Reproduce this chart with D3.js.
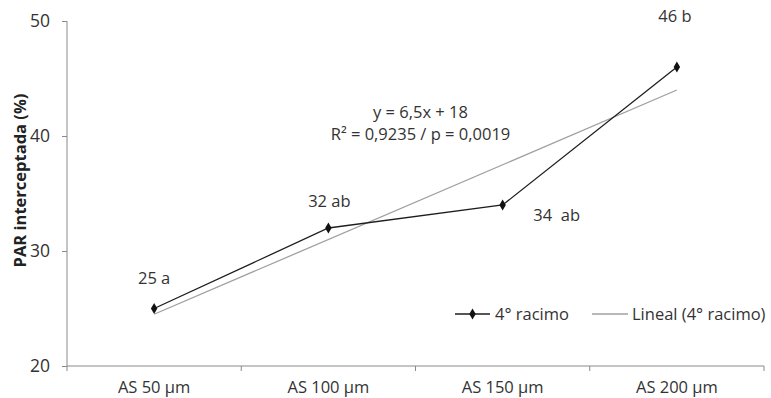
<!DOCTYPE html>
<meta charset="utf-8">
<style>
  body { margin: 0; background: #fff; }
  text { font-family: "Open Sans", sans-serif; fill: #333; }
  .axis path, .axis line { stroke: #8a8a8a; }
  .axis text { font-size: 16.5px; fill: #333; font-family: "Open Sans", sans-serif; }
</style>
<body>
<div id="chart"></div>
<script src="https://d3js.org/d3.v7.min.js"></script>
<script>
// data
var categories = ["AS 50 \u00b5m", "AS 100 \u00b5m", "AS 150 \u00b5m", "AS 200 \u00b5m"];
var values = [25, 32, 34, 46];
var pointLabels = ["25 a", "32 ab", "34  ab", "46 b"];
var yTicks = [20, 30, 40, 50];
var trendSlope = 6.5, trendIntercept = 18;
var equationLines = ["y = 6,5x + 18", "R\u00b2 = 0,9235 / p = 0,0019"];

var margin = { top: 21, right: 7, bottom: 32, left: 67 },
  width = 771 - margin.left - margin.right,
  height = 398 - margin.top - margin.bottom;

var svg = d3.select("#chart").append("svg")
  .attr("width", 771).attr("height", 398);
var g = svg.append("g").attr("transform", "translate(" + margin.left + "," + margin.top + ")");

var x = d3.scaleBand().domain(categories).range([0, width]);
var y = d3.scaleLinear().domain([20, 50]).range([height, 0]);
var cx = function (i) { return x(categories[i]) + x.bandwidth() / 2; };

// axes
var xAxis = g.append("g").attr("class", "axis")
  .attr("transform", "translate(0," + height + ")")
  .call(d3.axisBottom(x).tickSize(0).tickPadding(15));
xAxis.select(".domain").attr("d", "M0,0H" + width);
// category boundary ticks
xAxis.selectAll(".bound").data(d3.range(categories.length + 1)).enter()
  .append("line").attr("class", "bound")
  .attr("x1", function (i) { return i * x.step(); })
  .attr("x2", function (i) { return i * x.step(); })
  .attr("y1", 0).attr("y2", 5);

var yAxis = g.append("g").attr("class", "axis")
  .call(d3.axisLeft(y).tickValues(yTicks).tickSize(5).tickPadding(12));
yAxis.select(".domain").attr("d", "M0," + height + "V0");
yAxis.selectAll("text").style("font-size", "17.5px");

// y title
svg.append("text")
  .attr("transform", "translate(26," + (margin.top + height / 2 - 13) + ") rotate(-90)")
  .attr("text-anchor", "middle")
  .style("font-size", "16.5px").style("font-weight", "bold").style("fill", "#222")
  .text("PAR interceptada (%)");

// trend line
var trend = categories.map(function (c, i) { return [cx(i), y(trendSlope * (i + 1) + trendIntercept)]; });
g.append("path")
  .attr("d", d3.line()([trend[0], trend[trend.length - 1]]))
  .attr("fill", "none").attr("stroke", "#a0a0a0").attr("stroke-width", 1.3);

// series line
g.append("path")
  .datum(values)
  .attr("d", d3.line().x(function (d, i) { return cx(i); }).y(function (d) { return y(d); }))
  .attr("fill", "none").attr("stroke", "#1e1e1e").attr("stroke-width", 1.3);

var diamond = d3.symbol().type(d3.symbolDiamond).size(36);
g.selectAll(".pt").data(values).enter().append("path")
  .attr("class", "pt")
  .attr("d", diamond)
  .attr("transform", function (d, i) { return "translate(" + cx(i) + "," + y(d) + ")"; })
  .attr("fill", "#111");

// point labels
var labelOffsets = [[0, -25], [1, -21], [54, 16], [-2, -45]];
g.selectAll(".plab").data(values).enter().append("text")
  .attr("x", function (d, i) { return cx(i) + labelOffsets[i][0]; })
  .attr("y", function (d, i) { return y(d) + labelOffsets[i][1]; })
  .attr("text-anchor", "middle")
  .style("font-size", "16.5px")
  .style("white-space", "pre")
  .text(function (d, i) { return pointLabels[i]; });

// equation
g.selectAll(".eq").data(equationLines).enter().append("text")
  .attr("x", (cx(1) + cx(2)) / 2 + 5)
  .attr("y", function (d, i) { return 97 + i * 22; })
  .attr("text-anchor", "middle")
  .style("font-size", "16.5px")
  .text(function (d) { return d; });

// legend
var leg = svg.append("g").attr("transform", "translate(455,314)");
leg.append("line").attr("x1", 0).attr("x2", 35).attr("y1", 0).attr("y2", 0)
  .attr("stroke", "#1e1e1e").attr("stroke-width", 1.3);
leg.append("path").attr("d", diamond).attr("transform", "translate(17.5,0)").attr("fill", "#111");
leg.append("text").attr("x", 40).attr("y", 6).style("font-size", "16.5px").text("4\u00b0 racimo");
leg.append("line").attr("x1", 137).attr("x2", 173).attr("y1", 0).attr("y2", 0)
  .attr("stroke", "#a0a0a0").attr("stroke-width", 1.3);
leg.append("text").attr("x", 177).attr("y", 6).style("font-size", "16.5px").text("Lineal (4\u00b0 racimo)");
</script>
</body>
